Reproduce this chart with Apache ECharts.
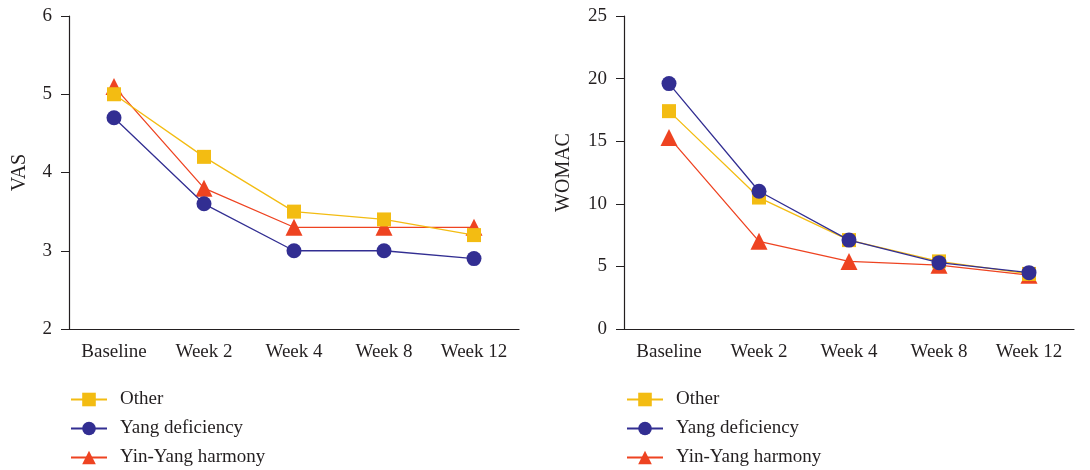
<!DOCTYPE html>
<html>
<head>
<meta charset="utf-8">
<script src="https://cdn.jsdelivr.net/npm/echarts@6/dist/echarts.min.js"></script>
<style>
  html, body { margin: 0; padding: 0; background: #fff; }
  #chart { width: 1090px; height: 470px; }
</style>
</head>
<body>
<div id="chart"></div>
<script>
const weeks = ["Baseline", "Week 2", "Week 4", "Week 8", "Week 12"];
const groupNames = ["Other", "Yang deficiency", "Yin-Yang harmony"];

// VAS (left panel)
const vasOther = [5.0, 4.2, 3.5, 3.4, 3.2];
const vasYang = [4.7, 3.6, 3.0, 3.0, 2.9];
const vasYinYang = [5.1, 3.8, 3.3, 3.3, 3.3];

// WOMAC (right panel)
const womacOther = [17.4, 10.5, 7.1, 5.4, 4.4];
const womacYang = [19.6, 11.0, 7.1, 5.3, 4.5];
const womacYinYang = [15.3, 7.0, 5.4, 5.1, 4.3];

const colors = ["#F3BC12", "#322E92", "#EE4321"];
const symbols = ["rect", "circle", "triangle"];
const symbolSizes = [14, 15, 17];
const FONT = "Liberation Serif";
const AXIS_COLOR = "#231f20";

let myChart = echarts.init(document.getElementById("chart"));

function xAxisFor(gridIndex) {
  return {
    type: "category",
    gridIndex: gridIndex,
    data: weeks,
    boundaryGap: true,
    axisLine: { lineStyle: { color: AXIS_COLOR, width: 1.2 } },
    axisTick: { alignWithLabel: true, length: 7, lineStyle: { color: AXIS_COLOR } },
    axisLabel: { color: "#231f20", fontFamily: FONT, fontSize: 19, margin: 14 }
  };
}

function yAxisFor(gridIndex, name, min, max, interval, gap) {
  return {
    type: "value",
    gridIndex: gridIndex,
    name: name,
    nameLocation: "middle",
    nameGap: gap,
    nameRotate: 90,
    nameTextStyle: { color: "#231f20", fontFamily: FONT, fontSize: 20 },
    min: min,
    max: max,
    interval: interval,
    splitLine: { show: false },
    axisLine: { show: true, lineStyle: { color: AXIS_COLOR, width: 1.2 } },
    axisTick: { show: true, length: 8, lineStyle: { color: AXIS_COLOR } },
    axisLabel: { color: "#231f20", fontFamily: FONT, fontSize: 19, margin: 17 }
  };
}

function lineSeries(i, data, axisIndex) {
  return {
    name: groupNames[i],
    type: "line",
    xAxisIndex: axisIndex,
    yAxisIndex: axisIndex,
    data: data,
    symbol: symbols[i],
    symbolSize: symbolSizes[i],
    showAllSymbol: true,
    itemStyle: { color: colors[i] },
    lineStyle: { color: colors[i], width: 1.3 },
    z: i === 1 ? 4 : (i === 0 ? 3 : 2)
  };
}

function legendAt(left) {
  return {
    data: groupNames,
    orient: "vertical",
    left: left,
    top: 390,
    padding: 0,
    itemWidth: 36,
    itemHeight: 17,
    itemGap: 10,
    textStyle: { color: "#231f20", fontFamily: FONT, fontSize: 19, padding: [0, 0, 0, 8] }
  };
}

let option = {
  animation: false,
  backgroundColor: "#fff",
  grid: [
    { left: 69, top: 16, width: 450, height: 313 },
    { left: 624, top: 16, width: 450, height: 313 }
  ],
  legend: [legendAt(70), legendAt(626)],
  xAxis: [xAxisFor(0), xAxisFor(1)],
  yAxis: [
    yAxisFor(0, "VAS", 2, 6, 1, 39),
    yAxisFor(1, "WOMAC", 0, 25, 5, 50)
  ],
  series: [
    lineSeries(0, vasOther, 0),
    lineSeries(1, vasYang, 0),
    lineSeries(2, vasYinYang, 0),
    lineSeries(0, womacOther, 1),
    lineSeries(1, womacYang, 1),
    lineSeries(2, womacYinYang, 1)
  ]
};

myChart.setOption(option);
</script>
</body>
</html>
